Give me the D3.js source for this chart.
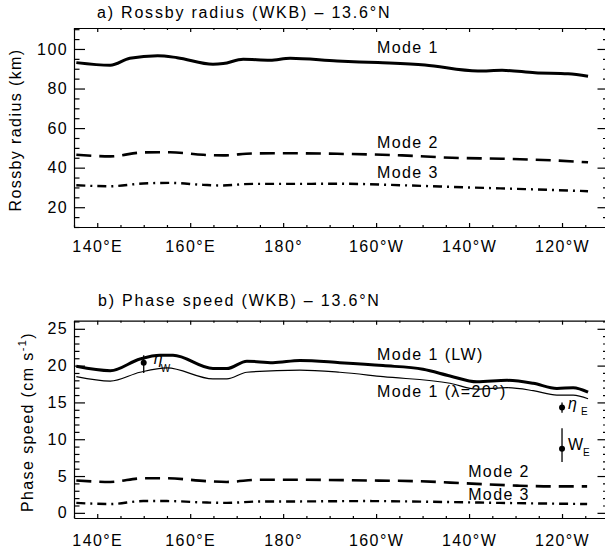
<!DOCTYPE html>
<html>
<head>
<meta charset="utf-8">
<script src="https://cdnjs.cloudflare.com/ajax/libs/d3/7.8.5/d3.min.js"></script>
<style>
body { margin: 0; background: #fff; }
svg text { font-family: "Liberation Sans", Arial, sans-serif; font-size: 16px; letter-spacing: 1.4px; fill: #000; }
</style>
</head>
<body>
<script>
// x axis (longitude, degrees east)
var xMajor = [140, 160, 180, 200, 220, 240];
var xLabels = ["140°E", "160°E", "180°", "160°W", "140°W", "120°W"];

// a) Rossby radius (km)
var radLon1 = [135.5, 142.8, 147, 153, 157.2, 164.9, 167.1, 171.4, 177.2, 181.5, 191.6, 200.4, 210.5, 221.9, 227.1, 234.2, 241.3, 245.6];
var radMode1 = [93.1, 91.8, 95.3, 96.6, 95.6, 92.3, 92.6, 94.8, 94.3, 95.3, 93.9, 93.1, 91.9, 88.9, 89.2, 88.0, 87.5, 86.2];
var radLon2 = [135.5, 142.8, 149.9, 155.7, 162.8, 167.1, 173.5, 180.9, 191.6, 205.6, 216.3, 227.1, 237.9, 245.6];
var radMode2 = [46.5, 45.7, 47.7, 47.8, 46.5, 46.2, 47.2, 47.3, 47.0, 46.2, 45.0, 44.5, 43.7, 42.7];
var radLon3 = [135.5, 142.8, 149.9, 155.7, 162.8, 166.5, 173.5, 184.3, 191.6, 205.6, 219.8, 234.2, 245.6];
var radMode3 = [31.1, 30.6, 32.0, 32.3, 31.3, 31.0, 31.8, 31.8, 31.9, 31.1, 30.0, 29.0, 28.1];

// b) Phase speed (cm/s)
var cLonLW = [135.5, 142.8, 149.2, 153.5, 156.3, 164.9, 167.9, 172.2, 177.8, 183.6, 192.2, 201.5, 210.1, 215.9, 221.7, 228.2, 233.8, 238.9, 242.4, 245.6];
var cMode1LW = [19.9, 19.3, 20.9, 21.4, 21.4, 19.6, 19.6, 20.6, 20.4, 20.7, 20.4, 20.0, 19.5, 18.6, 17.8, 18.0, 17.6, 16.9, 17.0, 16.4];
var cLonLam = [135.5, 142.8, 149.2, 155.0, 164.9, 167.9, 172.2, 183.6, 192.2, 201.5, 215.9, 221.7, 228.2, 233.8, 238.9, 242.4, 245.6];
var cMode1Lam = [18.5, 17.9, 19.1, 19.7, 18.2, 18.2, 19.1, 19.4, 19.1, 18.5, 17.6, 16.8, 17.0, 16.6, 16.0, 16.0, 15.5];
var cLon2 = [135.5, 142.8, 149.9, 155.0, 163.6, 167.9, 175.0, 182.1, 198.0, 208.8, 219.5, 230.3, 238.0, 245.4];
var cMode2 = [4.4, 4.2, 4.7, 4.7, 4.3, 4.2, 4.5, 4.5, 4.4, 4.3, 4.0, 3.7, 3.6, 3.6];
var cLon3 = [135.5, 142.8, 149.9, 155.0, 163.6, 167.9, 175.0, 182.1, 198.0, 212.2, 226.6, 245.4];
var cMode3 = [1.35, 1.2, 1.6, 1.6, 1.4, 1.35, 1.55, 1.55, 1.6, 1.5, 1.35, 1.2];

// observed speeds with error bars
var obsLon = [150, 240, 240];
var obsVal = [20.4, 14.3, 8.7];
var obsLo = [19.0, 13.6, 6.9];
var obsHi = [21.4, 15.0, 11.5];
var obsSym = ["η", "η", "W"];
var obsSub = ["W", "E", "E"];

var svg = d3.select("body").append("svg")
    .attr("width", 605)
    .attr("height", 552);

var x = d3.scaleLinear().domain([135, 250]).range([74, 608.5]);
var yA = d3.scaleLinear().domain([10, 110.6]).range([227, 28]);
var yB = d3.scaleLinear().domain([-0.7, 26.1]).range([518, 320.7]);

var xMinor = d3.range(135, 250, 5).filter(function (d) { return xMajor.indexOf(d) < 0; });

function styleAxis(g) {
    g.attr("font-size", null).attr("font-family", null);
    g.selectAll("line, path").attr("stroke", "#000").attr("stroke-width", 1.2);
}

function frame(y, yMajor, labelPad) {
    var bottom = y.range()[0], top = y.range()[1];
    var yMinor = d3.range(y.domain()[0], y.domain()[1], yMajor[1] - yMajor[0] > 10 ? 5 : 1)
        .map(function (d) { return Math.ceil(d); })
        .filter(function (d) { return yMajor.indexOf(d) < 0; });
    yMinor = Array.from(new Set(yMinor));
    var g = svg.append("g");

    // ticks all point inward, IDL style
    g.append("g").attr("transform", "translate(0," + bottom + ")")
        .call(d3.axisBottom(x).tickValues(xMinor).tickSize(-2).tickFormat(""))
        .call(styleAxis).select(".domain").remove();
    g.append("g").attr("transform", "translate(0," + bottom + ")")
        .call(d3.axisBottom(x).tickValues(xMajor).tickSizeInner(-4).tickSizeOuter(0)
            .tickPadding(labelPad).tickFormat(function (d, i) { return xLabels[i]; }))
        .call(styleAxis);
    g.append("g").attr("transform", "translate(0," + top + ")")
        .call(d3.axisTop(x).tickValues(xMinor).tickSize(-2).tickFormat(""))
        .call(styleAxis).select(".domain").remove();
    g.append("g").attr("transform", "translate(0," + top + ")")
        .call(d3.axisTop(x).tickValues(xMajor).tickSizeInner(-4).tickSizeOuter(0).tickFormat(""))
        .call(styleAxis);

    g.append("g").attr("transform", "translate(" + x.range()[0] + ",0)")
        .call(d3.axisLeft(y).tickValues(yMinor).tickSize(-5.5).tickFormat(""))
        .call(styleAxis).select(".domain").remove();
    g.append("g").attr("transform", "translate(" + x.range()[0] + ",0)")
        .call(d3.axisLeft(y).tickValues(yMajor).tickSizeInner(-11).tickSizeOuter(0).tickPadding(6))
        .call(styleAxis);
    g.append("g").attr("transform", "translate(" + x.range()[1] + ",0)")
        .call(d3.axisRight(y).tickValues(yMinor).tickSize(-5.5).tickFormat(""))
        .call(styleAxis).select(".domain").remove();
    g.append("g").attr("transform", "translate(" + x.range()[1] + ",0)")
        .call(d3.axisRight(y).tickValues(yMajor).tickSizeInner(-11).tickSizeOuter(0).tickFormat(""))
        .call(styleAxis);
    return g;
}

function series(y, lons, vals, width, dash) {
    var pts = lons.map(function (d, i) { return [d, vals[i]]; });
    svg.append("path")
        .datum(pts)
        .attr("fill", "none")
        .attr("stroke", "#000")
        .attr("stroke-width", width)
        .attr("stroke-dasharray", dash)
        .attr("stroke-linejoin", "round")
        .attr("d", d3.line()
            .curve(d3.curveMonotoneX)
            .x(function (d) { return x(d[0]); })
            .y(function (d) { return y(d[1]); }));
}

function label(y, lon, v, t) {
    return svg.append("text").attr("x", x(lon)).attr("y", y(v)).text(t);
}

// panel a
frame(yA, [20, 40, 60, 80, 100], 13.6);
series(yA, radLon1, radMode1, 3, null);
series(yA, radLon2, radMode2, 2.6, "15,8");
series(yA, radLon3, radMode3, 2.4, "9,5,2,5");

svg.append("text").attr("x", 97).attr("y", 18.3)
    .style("letter-spacing", "1.8px")
    .text("a) Rossby radius (WKB) – 13.6°N");
svg.append("text")
    .attr("transform", "translate(21,130) rotate(-90)")
    .attr("text-anchor", "middle")
    .text("Rossby radius (km)");
label(yA, 200.2, 98, "Mode 1");
label(yA, 200.2, 49.9, "Mode 2");
label(yA, 200.2, 34.8, "Mode 3");

// panel b
frame(yB, [0, 5, 10, 15, 20, 25], 16.6);
series(yB, cLonLW, cMode1LW, 3, null);
series(yB, cLonLam, cMode1Lam, 1.2, null);
series(yB, cLon2, cMode2, 2.6, "15,8");
series(yB, cLon3, cMode3, 2.4, "9,5,2,5");

svg.append("text").attr("x", 98).attr("y", 306)
    .style("letter-spacing", "1.8px")
    .text("b) Phase speed (WKB) – 13.6°N");
var yl = svg.append("text")
    .attr("transform", "translate(33,422) rotate(-90)")
    .attr("text-anchor", "middle");
yl.append("tspan").text("Phase speed (cm s");
yl.append("tspan").attr("dy", -7).style("font-size", "11px").text("-1");
yl.append("tspan").attr("dy", 7).text(")");

label(yB, 200.2, 20.76, "Mode 1 (LW)");
label(yB, 200.2, 15.73, "Mode 1 (λ=20°)");
label(yB, 219.8, 4.9, "Mode 2");
label(yB, 219.8, 1.74, "Mode 3");

// observations
var obs = svg.append("g").selectAll("g")
    .data(obsLon)
    .enter().append("g")
    .attr("transform", function (d, i) { return "translate(" + x(d) + ",0)"; });

obs.append("line")
    .attr("y1", function (d, i) { return yB(obsLo[i]); })
    .attr("y2", function (d, i) { return yB(obsHi[i]); })
    .attr("stroke", "#000")
    .attr("stroke-width", 1.3);
obs.append("circle")
    .attr("cy", function (d, i) { return yB(obsVal[i]); })
    .attr("r", 3)
    .attr("fill", "#000");
obs.append("text")
    .attr("x", function (d, i) { return i == 0 ? 10 : 6; })
    .attr("y", function (d, i) { return yB(obsVal[i]) + 1.5; })
    .style("font-style", function (d, i) { return obsSym[i] == "η" ? "italic" : "normal"; })
    .style("letter-spacing", "0px")
    .text(function (d, i) { return obsSym[i]; });
obs.append("text")
    .attr("x", function (d, i) { return i == 0 ? 17 : (obsSym[i] == "W" ? 21 : 19); })
    .attr("y", function (d, i) { return yB(obsVal[i]) + (i == 0 ? 9 : 7); })
    .style("font-size", "10px")
    .style("letter-spacing", "0px")
    .text(function (d, i) { return obsSub[i]; });
</script>
</body>
</html>
